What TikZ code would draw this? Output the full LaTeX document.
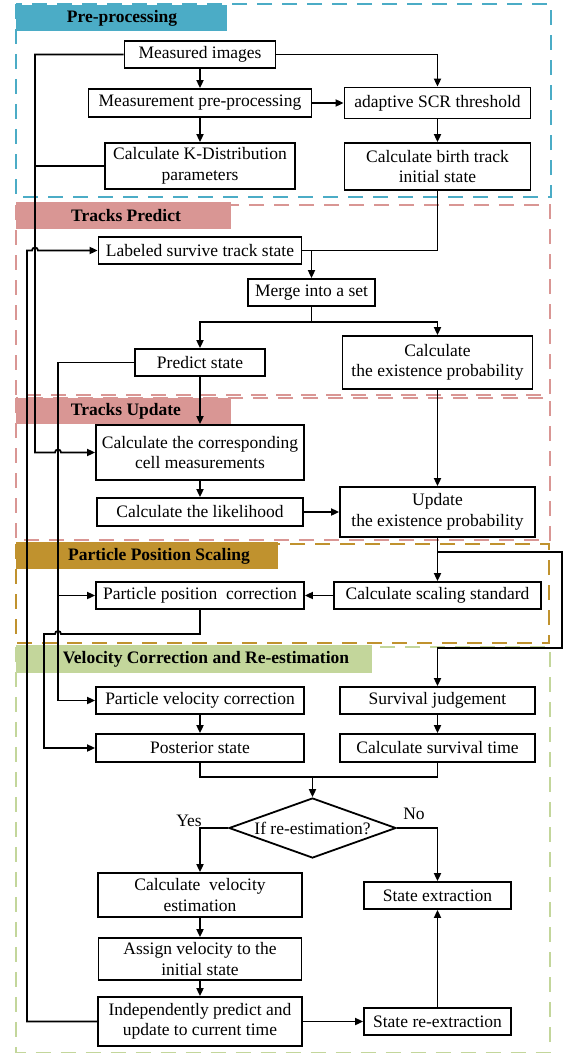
\documentclass[tikz,border=0pt]{standalone}
\usepackage{fontspec}
\setmainfont{Liberation Serif}
\usetikzlibrary{arrows.meta,shapes.geometric,calc}
\definecolor{preblue}{HTML}{4BACC6}
\definecolor{predred}{HTML}{D99694}
\definecolor{scalegold}{HTML}{C0922E}
\definecolor{velgreen}{HTML}{C3D69B}
\tikzset{
    box/.style={draw, line width=1.8pt, align=center, inner sep=0pt, font=\fontsize{17.5}{20.5}\selectfont},
    dec/.style={draw, line width=1.8pt, diamond, aspect=2.78, inner sep=0pt, font=\fontsize{17.5}{20.5}\selectfont},
    wire/.style={line width=1.8pt},
    arr/.style={line width=1.8pt, -{Triangle[length=8pt,width=7pt]}},
    frame/.style={line width=1.8pt, dash pattern=on 15pt off 10pt},
    head/.style={font=\bfseries\fontsize{17.5}{20}\selectfont},
    lbl/.style={font=\fontsize{17.5}{20}\selectfont},
  }
\begin{document}
\begin{tikzpicture}[x=1pt,y=-1pt]
    \useasboundingbox (0,0) rectangle (567,1054);
    %cadres des etapes
    \draw[frame, preblue] (16,4) rectangle (551,197);
    \draw[frame, predred] (16,205) rectangle (550,395);
    \draw[frame, predred] (16,398) rectangle (550,540);
    \draw[frame, scalegold] (16,544) rectangle (549,643);
    \draw[frame, velgreen] (16,647) rectangle (550,1052.5);
    \fill[preblue] (16,5) rectangle (227,31);
    \fill[predred] (16,202) rectangle (231,229);
    \fill[predred] (16,398) rectangle (231,424);
    \fill[scalegold] (16,542) rectangle (278,569);
    \fill[velgreen] (16,645) rectangle (372,673);
    \node[head] (hpre) at (122,18) {Pre-processing};
    \node[head] (hpred) at (126,216) {Tracks Predict};
    \node[head] (hupd) at (126,411) {Tracks Update};
    \node[head] (hscal) at (159,556) {Particle Position Scaling};
    \node[head] (hvel) at (206,659) {Velocity Correction and Re-estimation};
    %boites
    \node[box, minimum width=151pt, minimum height=27pt] (meas) at (200,54.5) {Measured images};
    \node[box, minimum width=223pt, minimum height=28pt] (prep) at (200,103) {Measurement pre-processing};
    \node[box, minimum width=186pt, minimum height=31pt] (scr) at (437.5,103) {adaptive SCR threshold};
    \node[box, minimum width=190pt, minimum height=46pt] (kdist) at (200,166) {Calculate K-Distribution\\parameters};
    \node[box, minimum width=186pt, minimum height=47pt] (birth) at (437.5,166.5) {Calculate birth track\\initial state};
    \node[box, minimum width=203pt, minimum height=27pt] (label) at (200,250.5) {Labeled survive track state};
    \node[box, minimum width=127pt, minimum height=27pt] (merge) at (311.5,292.5) {Merge into a set};
    \node[box, minimum width=130pt, minimum height=27pt] (pred) at (200,362.5) {Predict state};
    \node[box, minimum width=190pt, minimum height=53pt] (exist) at (437.5,362.5) {Calculate\\the existence probability};
    \node[box, minimum width=208pt, minimum height=55pt] (cell) at (200,452.5) {Calculate the corresponding\\cell measurements};
    \node[box, minimum width=206pt, minimum height=28pt] (like) at (200,512) {Calculate the likelihood};
    \node[box, minimum width=195pt, minimum height=50pt] (upd) at (437.5,512) {Update\\the existence probability};
    \node[box, minimum width=208pt, minimum height=27pt] (ppc) at (200,595.5) {Particle position~ correction};
    \node[box, minimum width=207pt, minimum height=27pt] (scal) at (437.5,595.5) {Calculate scaling standard};
    \node[box, minimum width=208pt, minimum height=27pt] (pvc) at (200,700.5) {Particle velocity correction};
    \node[box, minimum width=195pt, minimum height=27pt] (surv) at (437.5,700.5) {Survival judgement};
    \node[box, minimum width=208pt, minimum height=28pt] (post) at (200,748) {Posterior state};
    \node[box, minimum width=195pt, minimum height=28pt] (stime) at (437.5,748) {Calculate survival time};
    \node[dec, minimum width=167pt, minimum height=60pt] (test) at (312.5,828) {If re-estimation?};
    \node[box, minimum width=204pt, minimum height=44pt] (cve) at (200,895) {Calculate~ velocity\\estimation};
    \node[box, minimum width=147pt, minimum height=27pt] (sext) at (437.5,895.5) {State extraction};
    \node[box, minimum width=203pt, minimum height=42pt] (assign) at (200,959) {Assign velocity to the\\initial state};
    \node[box, minimum width=204pt, minimum height=49pt] (indep) at (200,1021.5) {Independently predict and\\update to current time};
    \node[box, minimum width=147pt, minimum height=27pt] (srex) at (437.5,1021.5) {State re-extraction};
    \node[lbl] (yes) at (189,821) {Yes};
    \node[lbl] (no) at (414,814) {No};
    %couloirs verticaux a gauche
    \coordinate (laneA) at (27,0);
    \coordinate (laneB) at (35,0);
    \coordinate (laneC) at (58,0);
    \coordinate (laneD) at (44,0);
    \coordinate (laneE) at (562,0);
    \coordinate (split) at (311.5,322);
    \coordinate (branch) at (437.5,552);
    \coordinate (turn) at (562,648);
    \coordinate (drop) at (200,634);
    \coordinate (join) at (312.5,777);
    %liaisons
    \draw[arr] (meas.south) -- (prep.north);
    \draw[arr] (meas.east) -| (scr.north);
    \draw[arr] (prep.east) -- (scr.west);
    \draw[arr] (prep.south) -- (kdist.north);
    \draw[arr] (scr.south) -- (birth.north);
    \draw[arr] (meas.west) -| (laneB |- cell.west) -- ($(laneC |- cell.west)+(-3,0)$) arc[start angle=180, end angle=0, radius=3pt] -- (cell.west);
    \draw[wire] (kdist.west) -- (laneB |- kdist.west);
    \draw[wire] (birth.south) |- (label.east);
    \draw[arr] (label.east) -| (merge.north);
    \draw[wire] (merge.south) -- (split);
    \draw[arr] (split) -| (pred.north);
    \draw[arr] (split) -| (exist.north);
    \draw[arr] (pred.south) -- (cell.north);
    \draw[arr] (pred.west) -| (laneC |- ppc.west) -- (ppc.west);
    \draw[arr] (laneC |- ppc.west) |- (pvc.west);
    \draw[arr] (exist.south) -- (upd.north);
    \draw[arr] (cell.south) -- (like.north);
    \draw[arr] (like.east) -- (upd.west);
    \draw[wire] (upd.south) -- (branch);
    \draw[arr] (branch) -- (scal.north);
    \draw[arr] (branch) -| (turn) -| (surv.north);
    \draw[arr] (scal.west) -- (ppc.east);
    \draw[arr] (ppc.south) -- (drop) -- ($(laneC |- drop)+(3,0)$) arc[start angle=0, end angle=180, radius=3pt] -- (laneD |- drop) |- (post.west);
    \draw[arr] (pvc.south) -- (post.north);
    \draw[arr] (surv.south) -- (stime.north);
    \draw[wire] (post.south) |- (join) -| (stime.south);
    \draw[arr] (join) -- (test.north);
    \draw[arr] (test.west) -| (cve.north);
    \draw[arr] (test.east) -| (sext.north);
    \draw[arr] (cve.south) -- (assign.north);
    \draw[arr] (assign.south) -- (indep.north);
    \draw[arr] (indep.east) -- (srex.west);
    \draw[arr] (srex.north) -- (sext.south);
    \draw[arr] (indep.west) -| (laneA |- label.west) -- ($(laneB |- label.west)+(-3,0)$) arc[start angle=180, end angle=0, radius=3pt] -- (label.west);
\end{tikzpicture}
\end{document}
